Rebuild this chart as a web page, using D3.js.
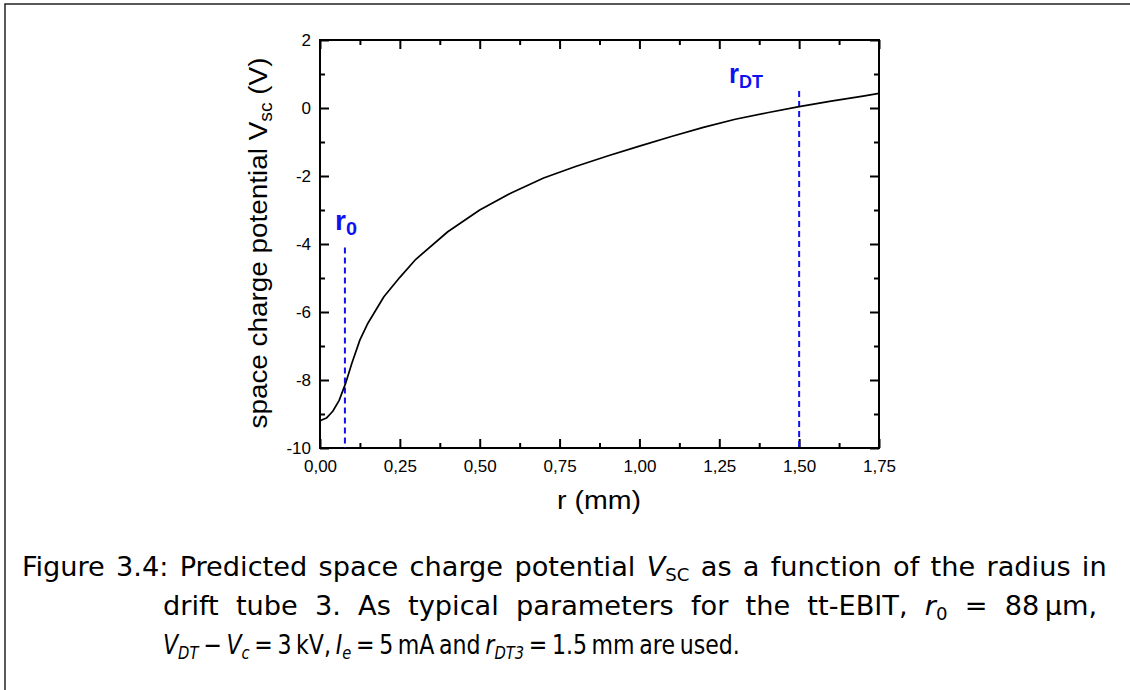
<!DOCTYPE html>
<html>
<head>
<meta charset="utf-8">
<script src="https://cdn.jsdelivr.net/npm/d3@7"></script>
<style>
  html, body { margin: 0; padding: 0; background: #fff; }
  svg { display: block; }
</style>
</head>
<body>
<svg id="fig" width="1130" height="690"></svg>
<script>
// Space charge potential across the drift tube radius
const radiusMm = [0, 0.02, 0.04, 0.06, 0.08, 0.10, 0.125, 0.15, 0.20, 0.25, 0.30, 0.40, 0.50,
                  0.60, 0.70, 0.80, 0.90, 1.00, 1.10, 1.20, 1.30, 1.40, 1.50, 1.60, 1.70, 1.75];
const potentialV = [-9.20, -9.12, -8.92, -8.60, -8.10, -7.50, -6.82, -6.33, -5.55, -4.98, -4.45, -3.64, -3.00,
                    -2.49, -2.06, -1.72, -1.41, -1.12, -0.84, -0.57, -0.33, -0.14, 0.04, 0.20, 0.35, 0.43];

// Marker lines: beam radius r0 and drift tube radius rDT
const markerNames = ["0", "DT"];
const markerRadius = [0.078, 1.50];
const markerTop = [-4.1, 0.5];

// Axis ticks
const xMajorTicks = [0, 0.25, 0.5, 0.75, 1.0, 1.25, 1.5, 1.75];
const xMinorTicks = [0.125, 0.375, 0.625, 0.875, 1.125, 1.375, 1.625];
const yMajorTicks = [2, 0, -2, -4, -6, -8, -10];
const yMinorTicks = [1, -1, -3, -5, -7, -9];

// Caption lines, as runs of [text, style] where style is "", "i", "s" (sub), "is" (italic sub)
const captionLine1 = [["Figure 3.4: Predicted space charge potential ", ""], ["V", "i"], ["SC", "s"],
                      [" as a function of the radius in", ""]];
const captionLine2 = [["drift tube 3.  As typical parameters for the tt-EBIT, ", ""], ["r", "i"], ["0", "s"],
                      [" = 88\u2009µm,", ""]];
const captionLine3 = [["V", "i"], ["DT", "is"], [" − ", ""], ["V", "i"], ["c", "is"], [" = 3\u2009kV, ", ""],
                      ["I", "i"], ["e", "is"], [" = 5\u2009mA and ", ""], ["r", "i"], ["DT3", "is"],
                      [" = 1.5\u2009mm are used.", ""]];

const svg = d3.select("#fig");
const font = "'Liberation Sans', Arial, Helvetica, sans-serif";

// page frame
svg.append("path")
  .attr("d", "M5,690 L5,4 L1130,4")
  .attr("fill", "none").attr("stroke", "#222").attr("stroke-width", 1.5);

const plot = { left: 320, right: 879, top: 40, bottom: 448 };
const x = d3.scaleLinear().domain([0, 1.75]).range([plot.left, plot.right]);
const y = d3.scaleLinear().domain([-10, 2]).range([plot.bottom, plot.top]);

function fitLength(sel, len) {
  sel.attr("textLength", len).attr("lengthAdjust", "spacingAndGlyphs");
}

function styleAxis(g) {
  g.attr("font-family", font).attr("font-size", 17);
  g.select(".domain").remove();
  g.selectAll(".tick line").attr("stroke", "#000").attr("stroke-width", 2);
  g.selectAll(".tick text").attr("fill", "#000");
}

const major = 9, minor = 5;

// bottom axis
svg.append("g").attr("transform", `translate(0,${plot.bottom})`)
  .call(d3.axisBottom(x).tickValues(xMajorTicks).tickSize(-major).tickPadding(12)
    .tickFormat(d => d3.format(".2f")(d).replace(".", ",")))
  .call(styleAxis);
svg.append("g").attr("transform", `translate(0,${plot.bottom})`)
  .call(d3.axisBottom(x).tickValues(xMinorTicks).tickSize(-minor).tickFormat("")).call(styleAxis);

// top axis
svg.append("g").attr("transform", `translate(0,${plot.top})`)
  .call(d3.axisTop(x).tickValues(xMajorTicks).tickSize(-major).tickFormat("")).call(styleAxis);
svg.append("g").attr("transform", `translate(0,${plot.top})`)
  .call(d3.axisTop(x).tickValues(xMinorTicks).tickSize(-minor).tickFormat("")).call(styleAxis);

// left axis
svg.append("g").attr("transform", `translate(${plot.left},0)`)
  .call(d3.axisLeft(y).tickValues(yMajorTicks).tickSize(-major).tickPadding(9)
    .tickFormat(d => String(d)))
  .call(styleAxis);
svg.append("g").attr("transform", `translate(${plot.left},0)`)
  .call(d3.axisLeft(y).tickValues(yMinorTicks).tickSize(-minor).tickFormat("")).call(styleAxis);

// right axis
svg.append("g").attr("transform", `translate(${plot.right},0)`)
  .call(d3.axisRight(y).tickValues(yMajorTicks).tickSize(-major).tickFormat("")).call(styleAxis);
svg.append("g").attr("transform", `translate(${plot.right},0)`)
  .call(d3.axisRight(y).tickValues(yMinorTicks).tickSize(-minor).tickFormat("")).call(styleAxis);

// plot frame
svg.append("rect")
  .attr("x", plot.left).attr("y", plot.top)
  .attr("width", plot.right - plot.left).attr("height", plot.bottom - plot.top)
  .attr("fill", "none").attr("stroke", "#000").attr("stroke-width", 2);

// marker lines
const blue = "#1010f0";
markerRadius.forEach((r, i) => {
  svg.append("line")
    .attr("x1", x(r)).attr("x2", x(r))
    .attr("y1", y(markerTop[i])).attr("y2", y(-10))
    .attr("stroke", blue).attr("stroke-width", 2).attr("stroke-dasharray", "6,4");
});

// potential curve
const line = d3.line().x((d, i) => x(radiusMm[i])).y(d => y(d));
svg.append("path")
  .datum(potentialV)
  .attr("d", line)
  .attr("fill", "none").attr("stroke", "#000").attr("stroke-width", 1.7)
  .attr("stroke-linejoin", "round");

// marker labels
const labelPos = [[335, 230], [729, 83]];
const labelLen = [22, 34];
markerNames.forEach((name, i) => {
  const t = svg.append("text")
    .attr("x", labelPos[i][0]).attr("y", labelPos[i][1])
    .attr("fill", blue).attr("font-family", font).attr("font-weight", "bold");
  t.append("tspan").attr("font-size", 27).text("r");
  t.append("tspan").attr("font-size", 19).attr("dy", 5).text(name);
  fitLength(t, labelLen[i]);
});

// axis titles
const xTitle = svg.append("text")
  .attr("x", 599).attr("y", 509).attr("text-anchor", "middle")
  .attr("font-family", font).attr("font-size", 26).attr("fill", "#000")
  .text("r (mm)");
fitLength(xTitle, 84);

const yTitle = svg.append("text")
  .attr("transform", "translate(267,243) rotate(-90)")
  .attr("text-anchor", "middle")
  .attr("font-family", font).attr("font-size", 26).attr("fill", "#000");
yTitle.append("tspan").text("space charge potential V");
yTitle.append("tspan").attr("font-size", 18).attr("dy", 5).text("sc");
yTitle.append("tspan").attr("dy", -5).text(" (V)");
fitLength(yTitle, 371);

// caption: condensed sans with a horizontal scale, lines set to width by word spacing
const capFont = "'Liberation Sans Narrow', 'DejaVu Sans Condensed', 'Liberation Sans', sans-serif";
const capScale = 1.12;
function caption(runs) {
  const t = svg.append("text")
    .attr("font-family", capFont).attr("font-size", 27).attr("fill", "#000");
  let shifted = false;
  runs.forEach(([txt, st]) => {
    const sp = t.append("tspan").text(txt);
    const isSub = st.includes("s");
    if (st.includes("i")) sp.attr("font-style", "italic");
    if (isSub) sp.attr("font-size", 18);
    if (isSub && !shifted) { sp.attr("dy", 5); shifted = true; }
    else if (!isSub && shifted) { sp.attr("dy", -5); shifted = false; }
  });
  return t;
}
const capLines = [
  { runs: captionLine1, x: 22, y: 576, width: 1085 },
  { runs: captionLine2, x: 163, y: 615, width: 943 },
  { runs: captionLine3, x: 163, y: 654, width: 577 }
];
capLines.forEach(c => {
  const t = caption(c.runs);
  const w = t.node().getComputedTextLength();
  const spaces = c.runs.map(r => r[0]).join("").split(" ").length - 1;
  let gap = (c.width / capScale - w) / spaces;
  let k = capScale;
  if (gap < -2.5) {
    // tight line: close up the spaces, then narrow the whole line to its width
    gap = -2.5;
    k = c.width / (w + gap * spaces);
  }
  t.attr("word-spacing", gap)
    .attr("transform", `translate(${c.x},${c.y}) scale(${k},1)`);
});
</script>
</body>
</html>
